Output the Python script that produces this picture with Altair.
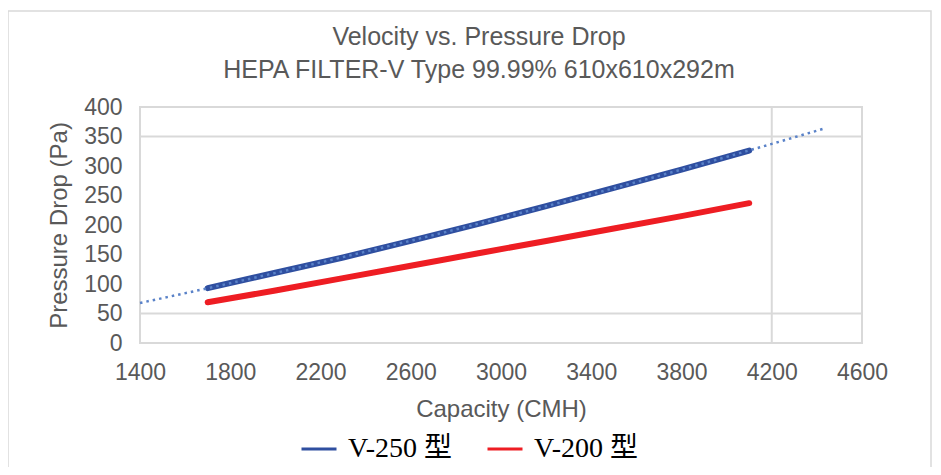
import altair as alt
import pandas as pd

# ---- data ----
capacity = [1700, 2000, 2300, 2600, 2900, 3200, 3500, 3800, 4100]
v250 = [93, 119, 145, 173, 202, 232, 263, 294, 326]
v200 = [69, 89, 110, 131, 152, 173, 194, 215, 237]
series_names = ["V-250 型", "V-200 型"]
x_ticks = [1400, 1800, 2200, 2600, 3000, 3400, 3800, 4200, 4600]
y_ticks = [0, 50, 100, 150, 200, 250, 300, 350, 400]
grid_x = [4200]
grid_y = [50, 350]
trend_extent = [1400, 4425]
title_lines = ["Velocity vs. Pressure Drop", "HEPA FILTER-V Type 99.99% 610x610x292m"]

df = pd.DataFrame({
    "cap": capacity * 2,
    "dp": v250 + v200,
    "series": [series_names[0]] * len(capacity) + [series_names[1]] * len(capacity),
})
df_gx = pd.DataFrame({"gx": grid_x})
df_gy = pd.DataFrame({"gy": grid_y})

GRAY = "#595959"
GRID = "#d9d9d9"
SANS = "Liberation Sans, Arial, sans-serif"
BLUE = "#2F4FA0"
RED = "#EE1D23"

xscale = alt.Scale(domain=[1400, 4600], nice=False, zero=False)
yscale = alt.Scale(domain=[0, 400], nice=False)

xaxis = alt.Axis(values=x_ticks, format="d", title="Capacity (CMH)", grid=False,
                 domain=False, ticks=False, labelFontSize=23, labelColor=GRAY,
                 labelFont=SANS, labelPadding=18, labelFlush=False, labelOverlap=False,
                 titleFont=SANS, titleFontSize=24,
                 titleColor=GRAY, titleFontWeight="normal", titlePadding=13)
yaxis = alt.Axis(values=y_ticks, format="d", title="Pressure Drop (Pa)", grid=False,
                 domain=False, ticks=False, labelFontSize=23, labelColor=GRAY,
                 labelFont=SANS, labelPadding=18, labelFlush=False, labelOverlap=False,
                 titleFont=SANS, titleFontSize=24,
                 titleColor=GRAY, titleFontWeight="normal", titlePadding=12)

frame = alt.Chart(pd.DataFrame({"a": [0]})).mark_rect(
    fillOpacity=0, stroke=GRID, strokeWidth=1.5
).encode(x=alt.value(-132), x2=alt.value(791), y=alt.value(-96), y2=alt.value(420))

gx = alt.Chart(df_gx).mark_rule(color=GRID, strokeWidth=2).encode(
    x=alt.X("gx:Q", scale=xscale, axis=xaxis))
gy = alt.Chart(df_gy).mark_rule(color=GRID, strokeWidth=2).encode(
    y=alt.Y("gy:Q", scale=yscale, axis=yaxis))

lines = alt.Chart(df).mark_line(strokeWidth=6, strokeCap="round").encode(
    x=alt.X("cap:Q", scale=xscale, axis=xaxis),
    y=alt.Y("dp:Q", scale=yscale, axis=yaxis),
    color=alt.Color(
        "series:N",
        scale=alt.Scale(domain=series_names, range=[BLUE, RED]),
        legend=alt.Legend(
            title=None, orient="none", legendX=160, legendY=323,
            direction="horizontal", symbolType="stroke", symbolSize=1225,
            symbolStrokeWidth=3, labelFont="Liberation Serif, Noto Sans CJK SC",
            labelFontSize=28, labelColor="#000000", labelOffset=10,
            columnPadding=29, labelLimit=300,
        ),
    ),
)

trend = alt.Chart(df).transform_filter(
    alt.datum.series == series_names[0]
).transform_regression(
    "cap", "dp", method="poly", order=2, extent=trend_extent
).mark_line(strokeWidth=2.5, strokeDash=[2.5, 4], color="#5A82C8").encode(
    x=alt.X("cap:Q", scale=xscale, axis=xaxis),
    y=alt.Y("dp:Q", scale=yscale, axis=yaxis),
)

chart = alt.layer(frame, gx, gy, lines, trend).properties(
    width=722,
    height=236,
    autosize=alt.AutoSizeParams(type="none"),
    padding={"left": 132, "top": 99, "right": 71, "bottom": 124},
    title=alt.Title(title_lines, fontSize=25, font=SANS, fontWeight="normal",
                    color=GRAY, lineHeight=33, anchor="middle", frame="group",
                    baseline="bottom", dx=-22, offset=-98),
).configure_view(stroke=GRID, strokeWidth=2)

chart.save("out.html", embed_options={"renderer": "svg", "actions": False})
